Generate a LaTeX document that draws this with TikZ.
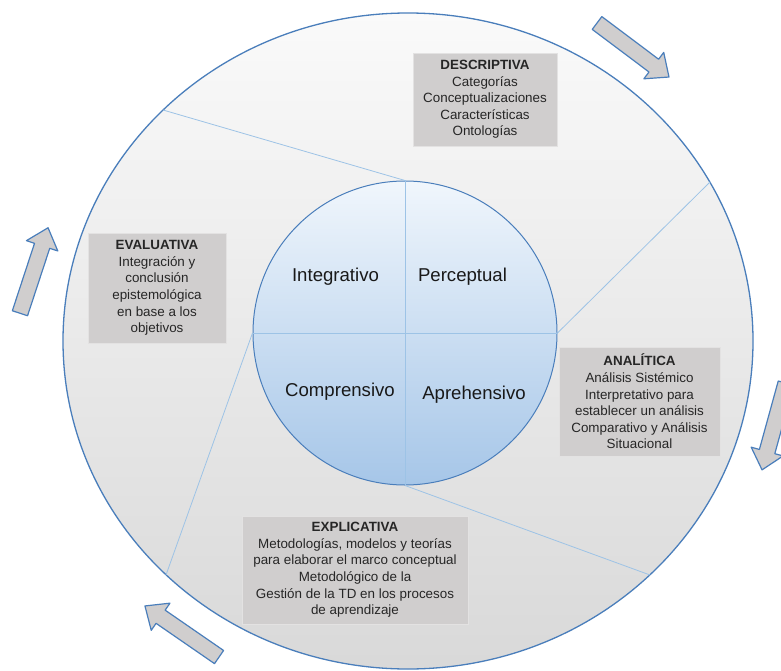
\documentclass[tikz,border=0pt]{standalone}
\usepackage{fontspec}
\setmainfont{Liberation Sans}

\definecolor{rim}{HTML}{4A7EBB}
\definecolor{spoke}{HTML}{9DC3E6}
\definecolor{boxgray}{HTML}{D0CECE}
\definecolor{coretop}{HTML}{F0F6FC}
\definecolor{corebot}{HTML}{A6C6E8}

\begin{document}
\begin{tikzpicture}[x=1pt, y=-1pt,
	stage/.style={fill=boxgray, draw=boxgray!60, line width=0.6pt, inner sep=0pt, align=center, text=black!85, font=\fontsize{13.4}{16.6}\selectfont},
	part/.style={text=black!90, font=\fontsize{18.6}{22}\selectfont},
	turn/.style={fill=boxgray, draw=rim, line width=1.2pt, line join=round},
	spokeline/.style={draw=spoke, line width=0.8pt}]
	\path[use as bounding box, clip] (0,0) rectangle (781,671);

	% outer ring
	\path[top color=white!98!black, bottom color=white!85!black, draw=rim, line width=1.3pt] (408,341) ellipse [x radius=345, y radius=328];
	\node[circle, minimum size=304pt, inner sep=0pt, top color=coretop, bottom color=corebot, draw=rim, line width=1pt] (core) at (405,333) {};

	\coordinate (o1) at (163,110);
	\coordinate (o2) at (710,182);
	\coordinate (o3) at (650,575);
	\coordinate (o4) at (166,575);
	\draw[spokeline] (core.north) -- (o1);
	\draw[spokeline] (core.east) -- (o2);
	\draw[spokeline] (core.south) -- (o3);
	\draw[spokeline] (core.west) -- (o4);
	\draw[spokeline] (core.north) -- (core.south);
	\draw[spokeline] (core.west) -- (core.east);

	% phases
	\node[stage, minimum width=144pt, minimum height=93pt] (desc) at (485,99.5) {\textbf{DESCRIPTIVA}\\Categorías\\Conceptualizaciones\\Características\\Ontologías};
	\node[stage, minimum width=161pt, minimum height=109pt] (anal) at (639.5,401.5) {\textbf{ANALÍTICA}\\Análisis Sistémico\\Interpretativo para\\establecer un análisis\\Comparativo y Análisis\\Situacional};
	\node[stage, minimum width=226pt, minimum height=108pt] (expl) at (355,570) {\textbf{EXPLICATIVA}\\Metodologías, modelos y teorías\\para elaborar el marco conceptual\\Metodológico de la\\Gestión de la TD en los procesos\\de aprendizaje};
	\node[stage, minimum width=138pt, minimum height=110pt] (eval) at (157,288) {\textbf{EVALUATIVA}\\Integración y\\conclusión\\epistemológica\\en base a los\\objetivos};

	% quadrants
	\node[part] (integ) at (335.5,277) {Integrativo};
	\node[part] (perc) at (462.5,277) {Perceptual};
	\node[part] (compr) at (340,392) {Comprensivo};
	\node[part] (apre) at (474,395) {Aprehensivo};

	% turning arrows
	\foreach \cx/\cy/\ang in {633/50/-36.9, 34/270.5/71.8, 774/426.5/-105.4, 182/631.5/145.4}
		\draw[turn, shift={(\cx,\cy)}, rotate=\ang] (-45,-8) -- (26,-8) -- (26,-16.5) -- (45,0) -- (26,16.5) -- (26,8) -- (-45,8) -- cycle;
\end{tikzpicture}
\end{document}
